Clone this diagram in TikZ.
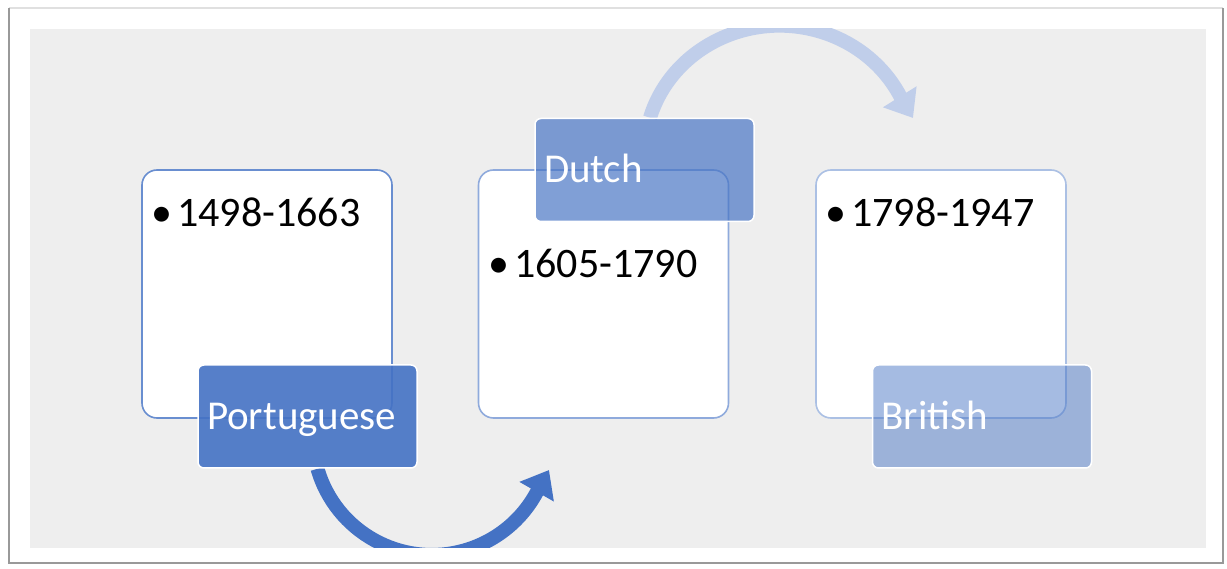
\documentclass[tikz,border=0pt]{standalone}
\usepackage{fontspec}
\setmainfont{Carlito}
\usepackage{xcolor}
\usepackage{tikz}
\usetikzlibrary{arrows.meta}
\usetikzlibrary{positioning, backgrounds}
\definecolor{accent}{RGB}{68,114,196}
\definecolor{panel}{RGB}{238,238,238}
\definecolor{faded}{RGB}{192,206,234}
\tikzset{
era/.style = { rectangle, draw = #1, line width = 1.6pt, fill = white, rounded corners = 15pt, minimum width = 250pt, minimum height = 248pt },
power/.style = { rectangle, draw = white, line width = 1.5pt, fill = accent, fill opacity = #1, text opacity = 1, text = white, rounded corners = 6pt, minimum width = 219pt, minimum height = 103pt, inner xsep = 9pt, text width = 201pt, align = left, text height = 26pt, text depth = 0pt, font = \fontsize{41}{49}\selectfont },
years/.style = { anchor = base west, inner sep = 0pt, font = \fontsize{42}{50}\selectfont },
flow/.style = { line width = 14pt, draw = #1, -{Triangle[length = 25pt, width = 38pt]} },
}

\begin{document}
\begin{tikzpicture}[x = 1pt, y = 1pt]
    \useasboundingbox (0, 0) rectangle (1227, 568);
    \node[era = accent!80] (portuguese era) at (267, 274) {};
    \node[years] (portuguese years) at (153, 341) {\makebox[18pt]{\textbullet}\hspace{6pt}1498-1663};
    \node[power = 0.9] (portuguese) at (307.5, 151.5) {Portuguese};
    \node[era = accent!60] (dutch era) at (603.5, 274) {};
    \node[years] (dutch years) at (490, 290) {\makebox[18pt]{\textbullet}\hspace{6pt}1605-1790};
    \node[power = 0.68] (dutch) at (644.5, 398) {Dutch};
    \node[era = accent!45] (british era) at (941, 274) {};
    \node[years] (british years) at (827, 341) {\makebox[18pt]{\textbullet}\hspace{6pt}1798-1947};
    \node[power = 0.48] (british) at (982, 151.5) {British};
    \coordinate (dutch entry) at (549, 98);
    \coordinate (british entry) at (913, 450);
    \begin{scope}[on background layer]
        \fill[white] (0, 0) rectangle (1227, 568);
        \draw[black!12, line width = 1.5pt] (9, 560) -- (1223, 560);
        \draw[black!40, line width = 1.5pt] (9, 560) -- (9, 5) -- (1223, 5) -- (1223, 560);
        \fill[panel] (30, 20) rectangle (1206, 539);
        \clip (30, 20) rectangle (1206, 539);
        \draw[flow = accent] ([xshift = 10pt]portuguese.south) arc[start angle = 196, end angle = 335, radius = 119pt] -- (dutch entry);
        \draw[flow = faded] ([xshift = 5.5pt]dutch.north) arc[start angle = 163.7, end angle = 23.6, x radius = 135pt, y radius = 128pt] -- (british entry);
    \end{scope}
\end{tikzpicture}
\end{document}
